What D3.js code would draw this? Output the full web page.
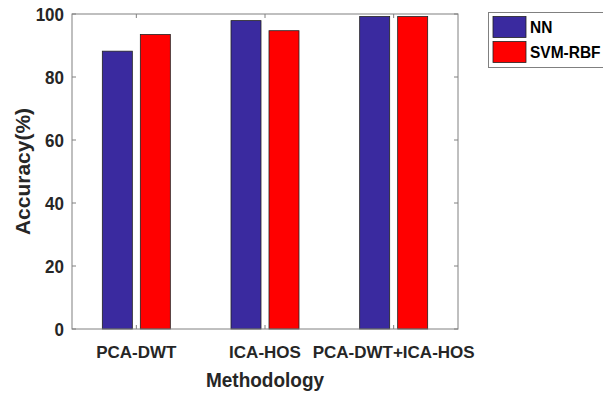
<!DOCTYPE html>
<html>
<head>
<meta charset="utf-8">
<script src="https://cdn.jsdelivr.net/npm/d3@7"></script>
<style>
  html, body { margin: 0; padding: 0; background: #fff; }
  svg { display: block; }
  text { font-family: "Liberation Sans", Arial, sans-serif; font-weight: bold; fill: #262626; }
</style>
</head>
<body>
<svg id="chart" width="603" height="394"></svg>
<script>
// Accuracy per methodology and classifier
const categories = ["PCA-DWT", "ICA-HOS", "PCA-DWT+ICA-HOS"];
const seriesNames = ["NN", "SVM-RBF"];
const nnValues = [88.2, 97.9, 99.2];
const svmValues = [93.5, 94.7, 99.2];
const yTicks = [0, 20, 40, 60, 80, 100];
const colors = ["#3a2a9f", "#ff0000"];

const svg = d3.select("#chart");
const plotLeft = 72, plotRight = 458, plotTop = 14, plotBottom = 329;

// Group positions on a 0.5..3.5 linear domain, bars offset around each center
const x = d3.scaleLinear().domain([0.5, 3.5]).range([plotLeft, plotRight]);
const y = d3.scaleLinear().domain([0, 100]).range([plotBottom, plotTop]);

const barW = 30, offset = 19;
const series = [nnValues, svmValues];

series.forEach((vals, si) => {
  svg.append("g").selectAll("rect")
    .data(vals)
    .join("rect")
    .attr("x", (d, i) => x(i + 1) + (si === 0 ? -offset : offset) - barW / 2)
    .attr("y", d => y(d))
    .attr("width", barW)
    .attr("height", d => y(0) - y(d))
    .attr("fill", colors[si])
    .attr("stroke", "#222")
    .attr("stroke-width", 0.8);
});

// Box with inward ticks on all four sides
const axisColor = "#808080";
const tickLen = 4;
const frame = svg.append("g");
frame.append("rect")
  .attr("x", plotLeft).attr("y", plotTop)
  .attr("width", plotRight - plotLeft).attr("height", plotBottom - plotTop)
  .attr("fill", "none").attr("stroke", axisColor).attr("stroke-width", 1);

yTicks.forEach(t => {
  frame.append("line").attr("x1", plotLeft).attr("x2", plotLeft + tickLen)
    .attr("y1", y(t)).attr("y2", y(t)).attr("stroke", axisColor);
  frame.append("line").attr("x1", plotRight).attr("x2", plotRight - tickLen)
    .attr("y1", y(t)).attr("y2", y(t)).attr("stroke", axisColor);
});
categories.forEach((c, i) => {
  frame.append("line").attr("x1", x(i + 1)).attr("x2", x(i + 1))
    .attr("y1", plotBottom).attr("y2", plotBottom - tickLen).attr("stroke", axisColor);
  frame.append("line").attr("x1", x(i + 1)).attr("x2", x(i + 1))
    .attr("y1", plotTop).attr("y2", plotTop + tickLen).attr("stroke", axisColor);
});

// Tick labels
svg.append("g").selectAll("text")
  .data(yTicks)
  .join("text")
  .attr("transform", d => `translate(${plotLeft - 8},${y(d) + 6.5}) scale(1,1.08)`)
  .attr("text-anchor", "end")
  .style("font-size", "17px")
  .text(d => d);

svg.append("g").selectAll("text")
  .data(categories)
  .join("text")
  .attr("x", (d, i) => x(i + 1))
  .attr("y", 358)
  .attr("text-anchor", "middle")
  .style("font-size", "17px")
  .text(d => d);

// Axis titles
svg.append("text")
  .attr("transform", `translate(${(plotLeft + plotRight) / 2},387) scale(1,1.1)`)
  .attr("text-anchor", "middle")
  .style("font-size", "19px")
  .text("Methodology");

svg.append("text")
  .attr("transform", `translate(30,${(plotTop + plotBottom) / 2}) rotate(-90)`)
  .attr("text-anchor", "middle")
  .style("font-size", "21px")
  .text("Accuracy(%)");

// Legend
const legend = svg.append("g");
legend.append("rect")
  .attr("x", 488.5).attr("y", 12.5)
  .attr("width", 140).attr("height", 55)
  .attr("fill", "#fff").attr("stroke", axisColor);
seriesNames.forEach((name, i) => {
  const ly = 16.5 + i * 25;
  legend.append("rect")
    .attr("x", 493).attr("y", ly)
    .attr("width", 33).attr("height", 21)
    .attr("fill", colors[i]).attr("stroke", "#222").attr("stroke-width", 0.8);
  legend.append("text")
    .attr("transform", `translate(530,${ly + 16}) scale(1,1.1)`)
    .style("font-size", "15.5px")
    .style("fill", "#000")
    .text(name);
});
</script>
</body>
</html>
